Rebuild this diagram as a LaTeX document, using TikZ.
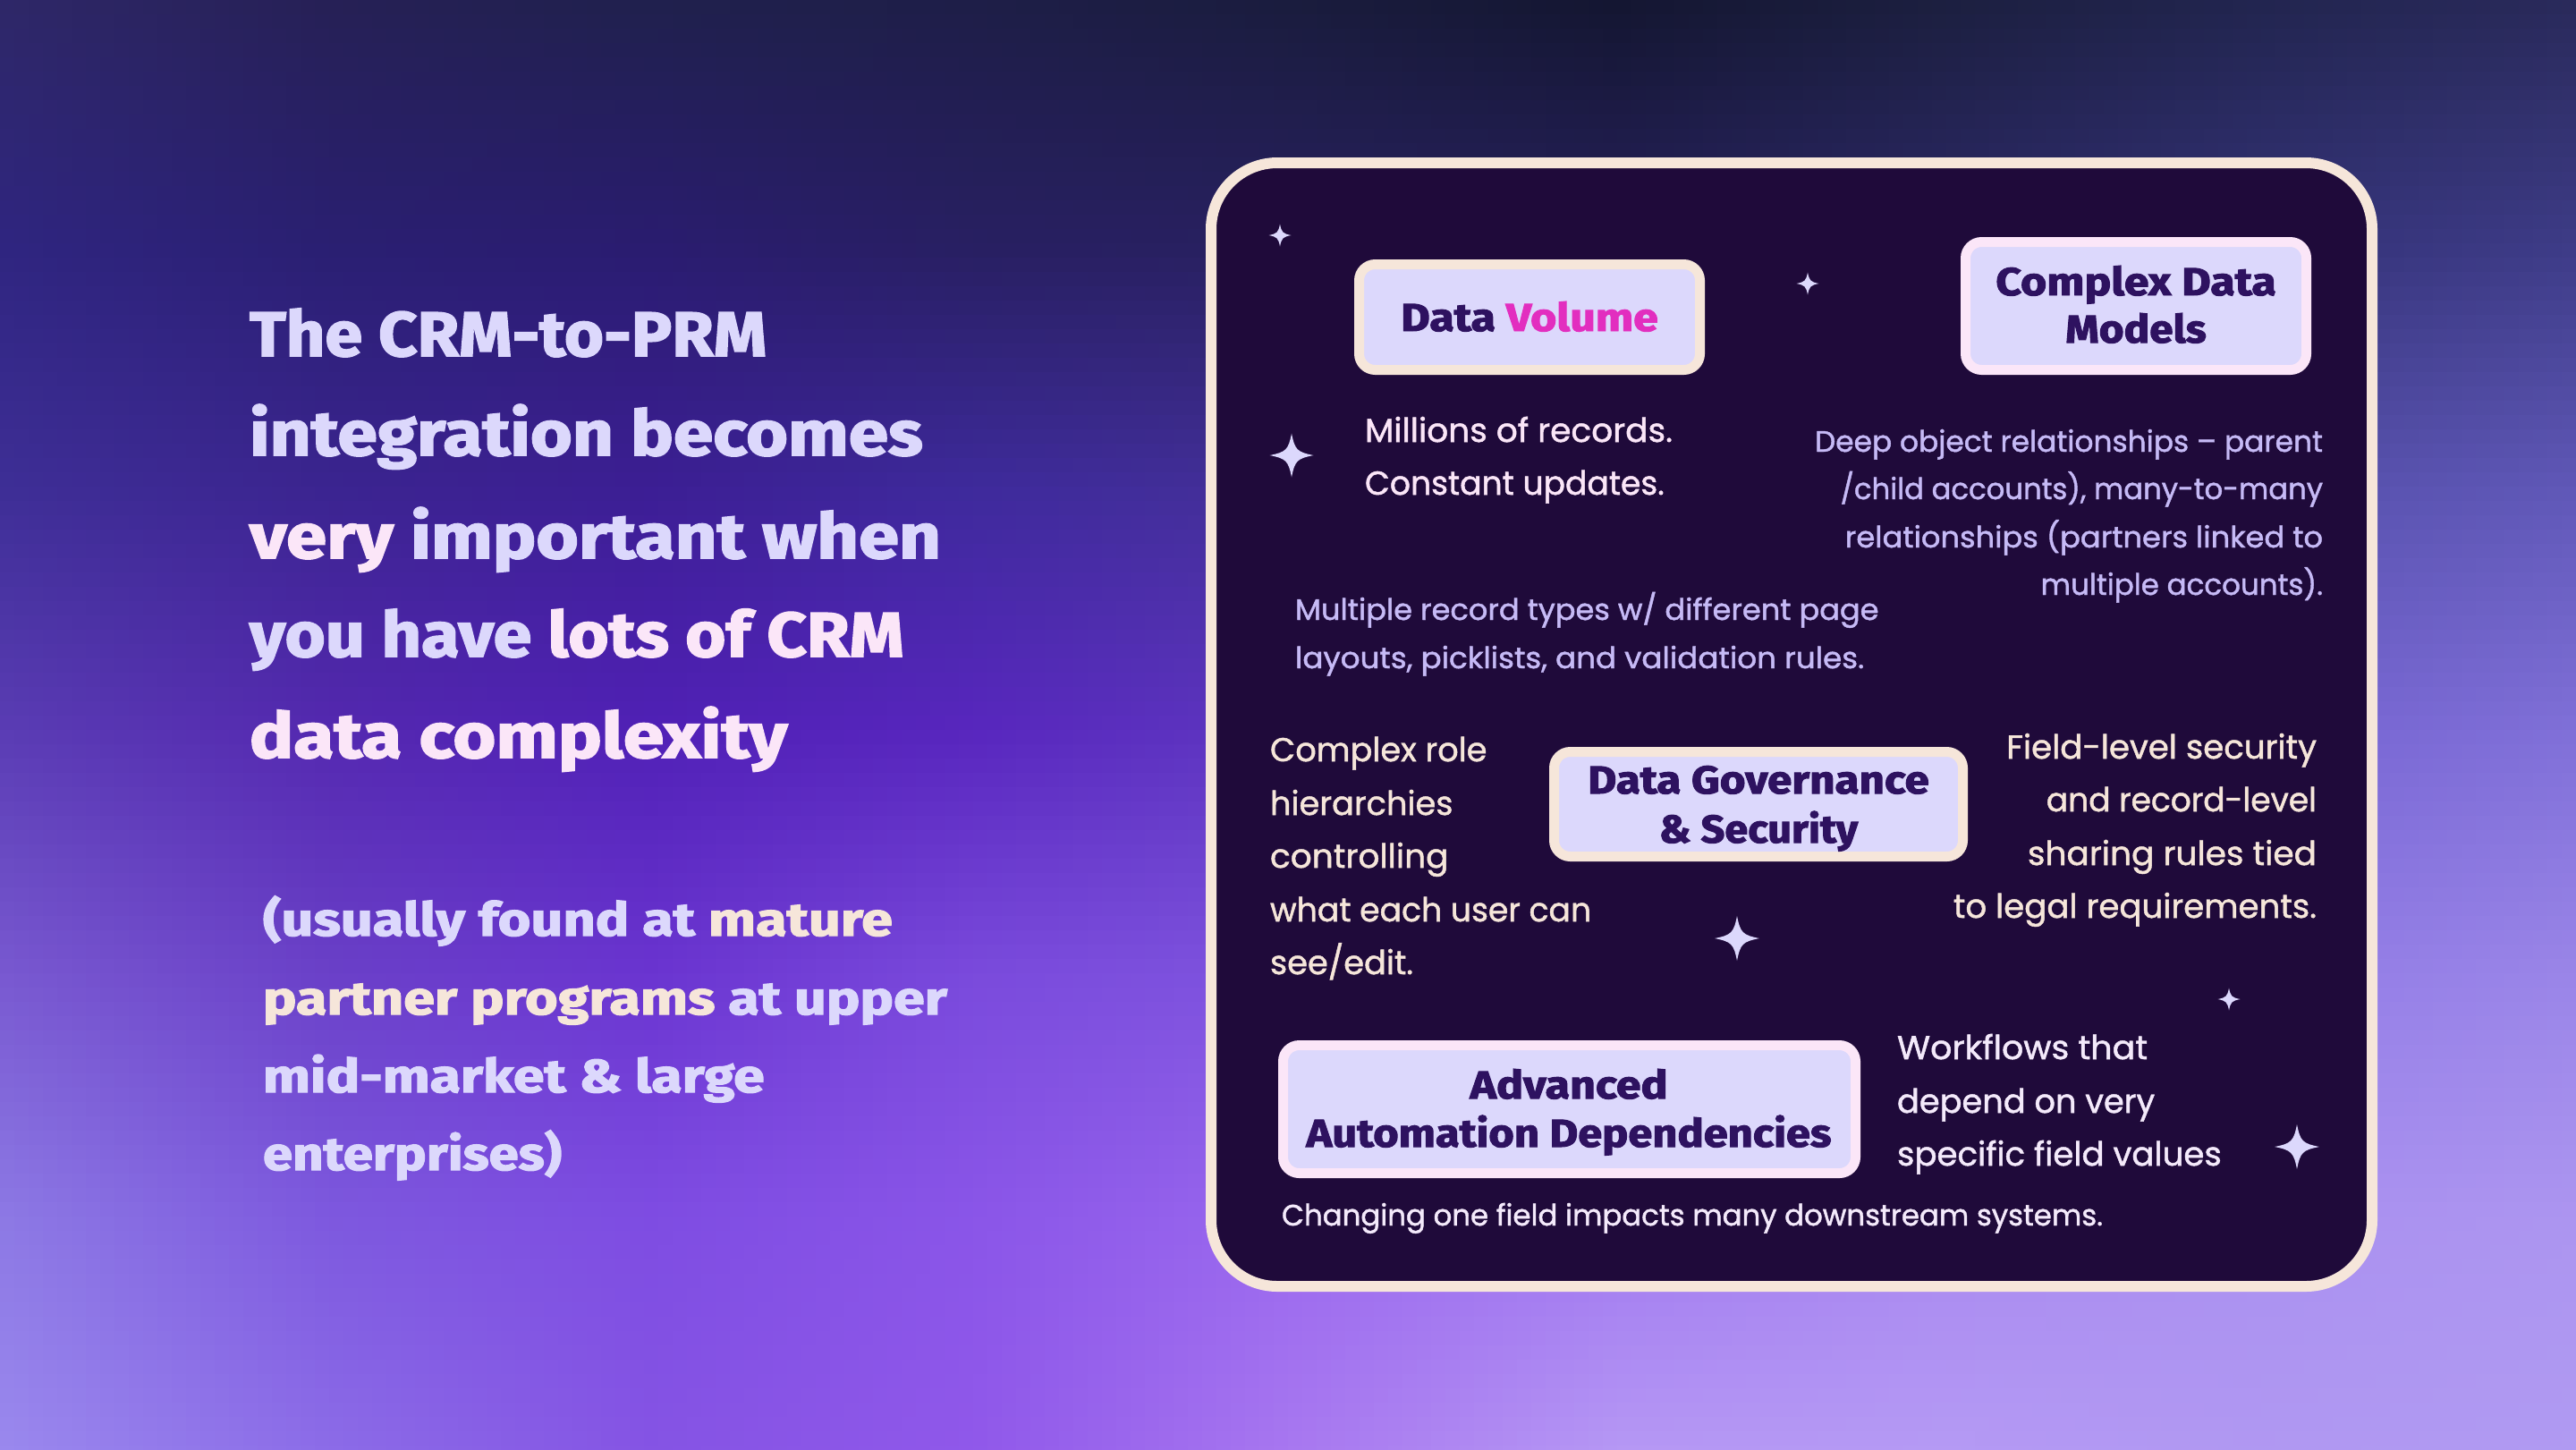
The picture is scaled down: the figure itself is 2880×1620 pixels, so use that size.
\documentclass[tikz,border=0pt]{standalone}
\usepackage{fontspec}
\usepackage{graphicx}
\newfontfamily\headff{Fira Sans}[BoldFeatures={FakeBold=2.2}]
\newcommand\headf{\headff\bfseries}
\newfontfamily\bodyf{Poppins}[FakeBold=1.3]
\definecolor{panelbg}{HTML}{1F0A3A}
\definecolor{cream}{HTML}{F6E6DA}
\definecolor{pinkc}{HTML}{FBE6F8}
\definecolor{lav}{HTML}{DCD8FC}
\definecolor{lavbody}{HTML}{C6BAF6}
\definecolor{inkc}{HTML}{2E1260}
\definecolor{magc}{HTML}{E22EBF}
\definecolor{softw}{HTML}{F4EAFB}
% background control grid
\def\sethex#1#2#3#4#5#6#7#8{%
  \expandafter\xdef\csname gr#1-#2\endcsname{\number"#3#4 }%
  \expandafter\xdef\csname gg#1-#2\endcsname{\number"#5#6 }%
  \expandafter\xdef\csname gb#1-#2\endcsname{\number"#7#8 }}
\newcommand\gridrow[2]{\foreach \cc [count=\ii from 0] in {#2}{%
  \edef\tmpa{\noexpand\sethex{\ii}{#1}\cc}\tmpa}}
\def\lerpc#1{\numexpr(\csname g#1\iA-\jA\endcsname*\wxa*\wya+\csname g#1\iB-\jA\endcsname*\wxb*\wya
  +\csname g#1\iA-\jB\endcsname*\wxa*\wyb+\csname g#1\iB-\jB\endcsname*\wxb*\wyb)/97200\relax}
\newcommand\tile[2]{%
  \edef\iA{\number\numexpr(#1+180)/360-1\relax}%
  \edef\iB{\number\numexpr\iA+1\relax}%
  \edef\jA{\number\numexpr(#2+135)/270-1\relax}%
  \edef\jB{\number\numexpr\jA+1\relax}%
  \edef\wxb{\number\numexpr#1-\iA*360\relax}%
  \edef\wxa{\number\numexpr360-\wxb\relax}%
  \edef\wyb{\number\numexpr#2-\jA*270\relax}%
  \edef\wya{\number\numexpr270-\wyb\relax}%
  \edef\tmpc{\number\lerpc{r},\number\lerpc{g},\number\lerpc{b}}%
  \edef\tmpd{\noexpand\definecolor{tile}{RGB}{\tmpc}}\tmpd
  \pgfsetfillcolor{tile}%
  \pgfpathrectangle{\pgfqpoint{\dimexpr#1pt/4\relax}{\dimexpr-#2pt/4-4.5pt\relax}}{\pgfqpoint{4.5pt}{4.5pt}}%
  \pgfusepath{fill}}
\newdimen\wdtmp
\newcommand\mkscale[3]{\setbox0=\hbox{#2}\wdtmp=\wd0\relax\pgfmathsetmacro#1{(#3)/4/\the\wdtmp}}
\newcommand\hfa{\headf\fontsize{17.6pt}{20pt}\selectfont}
\newcommand\hfb{\headf\fontsize{13pt}{16pt}\selectfont}
\newcommand\hfc{\headf\fontsize{10.9pt}{14pt}\selectfont}
\newcommand\bfa{\bodyf\fontsize{9.25pt}{12pt}\selectfont}
\newcommand\bfb{\bodyf\fontsize{8.25pt}{12pt}\selectfont}
\newcommand\HA[2][1]{\scalebox{\fpeval{\sHA*#1}}[1]{#2}}
\newcommand\HB[2][1]{\scalebox{\fpeval{\sHB*#1}}[1]{#2}}
\newcommand\HC[2][1]{\scalebox{\fpeval{\sHC*#1}}[1]{#2}}
\newcommand\BA[2][1]{\scalebox{\fpeval{\sBA*#1}}[1]{#2}}
\newcommand\BB[2][1]{\scalebox{\fpeval{\sBB*#1}}[1]{#2}}
\tikzset{
  panelbox/.style={draw=cream,fill=panelbg,line width=3pt,rounded corners=18.5pt,inner sep=0pt},
  tagbox/.style={fill=lav,line width=2.75pt,rounded corners=4.5pt,inner sep=0pt},
  txt/.style={inner sep=0pt,outer sep=0pt},
  sparkle/.pic={\fill[lav] (0,-1) .. controls (.15,-.25) and (.25,-.15) .. (1,0)
     .. controls (.25,.15) and (.15,.25) .. (0,1)
     .. controls (-.15,.25) and (-.25,.15) .. (-1,0)
     .. controls (-.25,-.15) and (-.15,-.25) .. (0,-1) -- cycle;}
}
\AtBeginDocument{%
\mkscale\sHA{\hfa very important when}{773}%
\mkscale\sHB{\hfb partner programs at upper}{765}%
\mkscale\sHC{\hfc Automation Dependencies}{587}%
\mkscale\sBA{\bfa Millions of records.}{344}%
\mkscale\sBB{\bfb Deep object relationships – parent}{568}%
}
\begin{document}
\begin{tikzpicture}[x=.25pt,y=-.25pt]
\useasboundingbox (0,0) rectangle (2880,1620);
% background
\gridrow{0}{{2E2768},{262056},{20204E},{1E1E48},{1A1C3E},{141632},{1C1F40},{222550},{2A2A5C}}
\gridrow{1}{{2F2580},{2A1F72},{2A1C70},{281F62},{282060},{26205C},{2C2868},{343278},{3E3C88}}
\gridrow{2}{{3E2E96},{3B2490},{3C1E94},{3E2A9C},{443098},{463898},{4C44A0},{5650AC},{6058B8}}
\gridrow{3}{{5A3CB4},{5428B0},{5020B6},{5826BE},{5E38C0},{6644C4},{6E58CC},{7664D2},{8070D8}}
\gridrow{4}{{7858D0},{6A40C8},{6A34D0},{7A4ADC},{7E54DE},{8060E0},{8A70E2},{927CE6},{9A85E8}}
\gridrow{5}{{8C78E4},{7D58DE},{7E4CE2},{8A55E8},{9A68EE},{A078F0},{A888F0},{AA90F0},{AC95F0}}
\gridrow{6}{{9A88EE},{8C6CE8},{8554E4},{9058EA},{A878F0},{B698F4},{B59AF4},{B098F2},{B09AF2}}
\begin{scope}
\foreach \tx in {0,16,...,2864}{
  \foreach \ty in {0,16,...,1616}{
    \ifnum\numexpr(\tx-1380)*(\tx-2610)\relax<0
      \ifnum\numexpr(\ty-200)*(\ty-1400)\relax<0
      \else\tile{\tx}{\ty}\fi
    \else\tile{\tx}{\ty}\fi
  }
}
\end{scope}
% left column
\node[txt,anchor=base west,font=\hfa,text=lav] (h1) at (279,398) {\HA[.929]{The CRM-to-PRM}};
\node[txt,anchor=base west,font=\hfa,text=lav] (h2) at (279,509) {\HA[.986]{integration becomes}};
\node[txt,anchor=base west,font=\hfa,text=lav] (h3) at (279,624) {\HA{\textcolor{pinkc}{very} important when}};
\node[txt,anchor=base west,font=\hfa,text=lav] (h4) at (279,734) {\HA[.952]{you have \textcolor{pinkc}{lots of CRM}}};
\node[txt,anchor=base west,font=\hfa,text=pinkc] (h5) at (279,847) {\HA[1.01]{data complexity}};
\node[txt,anchor=base west,font=\hfb,text=lav] (s1) at (294,1046) {\HB{(usually found at \textcolor{cream}{mature}}};
\node[txt,anchor=base west,font=\hfb,text=lav] (s2) at (294,1134) {\HB{\textcolor{cream}{partner programs} at upper}};
\node[txt,anchor=base west,font=\hfb,text=lav] (s3) at (294,1221) {\HB[.996]{mid-market \& large}};
\node[txt,anchor=base west,font=\hfb,text=lav] (s4) at (294,1308) {\HB[.953]{enterprises)}};
% panel
\node[panelbox,minimum width=324.5pt,minimum height=314pt] (panel) at (2003,810) {};
% tag boxes
\node[tagbox,draw=cream,minimum width=95.25pt,minimum height=29.5pt] (volbox) at (1710,354.5) {};
\node[tagbox,draw=pinkc,minimum width=95.25pt,minimum height=35.75pt] (modbox) at (2388,342) {};
\node[tagbox,draw=cream,minimum width=114.25pt,minimum height=29.25pt] (govbox) at (1966,899) {};
\node[tagbox,draw=pinkc,minimum width=160pt,minimum height=35.75pt] (autobox) at (1754.5,1240) {};
% tag labels
\node[txt,anchor=base,font=\hfc,text=inkc] (vol) at (1710,370) {\HC[1.026]{Data \textcolor{magc}{Volume}}};
\node[txt,anchor=base,font=\hfc,text=inkc] (mod1) at (2388,330) {\HC[1.024]{Complex Data}};
\node[txt,anchor=base,font=\hfc,text=inkc] (mod2) at (2388,383) {\HC[.977]{Models}};
\node[txt,anchor=base,font=\hfc,text=inkc] (gov1) at (1966,887) {\HC[1.01]{Data Governance}};
\node[txt,anchor=base,font=\hfc,text=inkc] (gov2) at (1966,942) {\HC[.96]{\& Security}};
\node[txt,anchor=base,font=\hfc,text=inkc] (auto1) at (1754,1228) {\HC[1.025]{Advanced}};
\node[txt,anchor=base,font=\hfc,text=inkc] (auto2) at (1754,1282) {\HC{Automation Dependencies}};
% body texts
\node[txt,anchor=base west,font=\bfa,text=pinkc] (m1) at (1526,494) {\BA{Millions of records.}};
\node[txt,anchor=base west,font=\bfa,text=pinkc] (m2) at (1526,553) {\BA[.963]{Constant updates.}};
\node[txt,anchor=base east,font=\bfb,text=lavbody] (d1) at (2597,505) {\BB{Deep object relationships – parent}};
\node[txt,anchor=base east,font=\bfb,text=lavbody] (d2) at (2597,558) {\BB[.983]{/child accounts), many-to-many}};
\node[txt,anchor=base east,font=\bfb,text=lavbody] (d3) at (2597,612) {\BB[1.025]{relationships (partners linked to}};
\node[txt,anchor=base east,font=\bfb,text=lavbody] (d4) at (2597,665) {\BB[.99]{multiple accounts).}};
\node[txt,anchor=base west,font=\bfb,text=lavbody] (r1) at (1448,693) {\BB[1.023]{Multiple record types w/ different page}};
\node[txt,anchor=base west,font=\bfb,text=lavbody] (r2) at (1448,747) {\BB[1.039]{layouts, picklists, and validation rules.}};
\node[txt,anchor=base west,font=\bfa,text=cream] (c1) at (1420,851) {\BA[.978]{Complex role}};
\node[txt,anchor=base west,font=\bfa,text=cream] (c2) at (1420,911) {\BA[.98]{hierarchies}};
\node[txt,anchor=base west,font=\bfa,text=cream] (c3) at (1420,970) {\BA{controlling}};
\node[txt,anchor=base west,font=\bfa,text=cream] (c4) at (1420,1030) {\BA[.965]{what each user can}};
\node[txt,anchor=base west,font=\bfa,text=cream] (c5) at (1420,1089) {\BA[.98]{see/edit.}};
\node[txt,anchor=base east,font=\bfa,text=cream] (f1) at (2590,848) {\BA[.99]{Field-level security}};
\node[txt,anchor=base east,font=\bfa,text=cream] (f2) at (2590,907) {\BA[.96]{and record-level}};
\node[txt,anchor=base east,font=\bfa,text=cream] (f3) at (2590,967) {\BA{sharing rules tied}};
\node[txt,anchor=base east,font=\bfa,text=cream] (f4) at (2590,1026) {\BA[.99]{to legal requirements.}};
\node[txt,anchor=base west,font=\bfa,text=softw] (w1) at (2121,1184) {\BA[1.013]{Workflows that}};
\node[txt,anchor=base west,font=\bfa,text=softw] (w2) at (2121,1244) {\BA[.98]{depend on very}};
\node[txt,anchor=base west,font=\bfa,text=softw] (w3) at (2121,1303) {\BA[.99]{specific field values}};
\node[txt,anchor=base west,font=\bfb,text=softw] (ch) at (1433,1370) {\BB[.986]{Changing one field impacts many downstream systems.}};
% sparkles
\pic[scale=12.5] at (1431,263) {sparkle};
\pic[scale=12.5] at (2021,317) {sparkle};
\pic[scale=24.5] at (1444,509) {sparkle};
\pic[scale=25] at (1942,1049) {sparkle};
\pic[scale=12.5] at (2492,1117) {sparkle};
\pic[scale=25] at (2568,1282) {sparkle};
\end{tikzpicture}
\end{document}
